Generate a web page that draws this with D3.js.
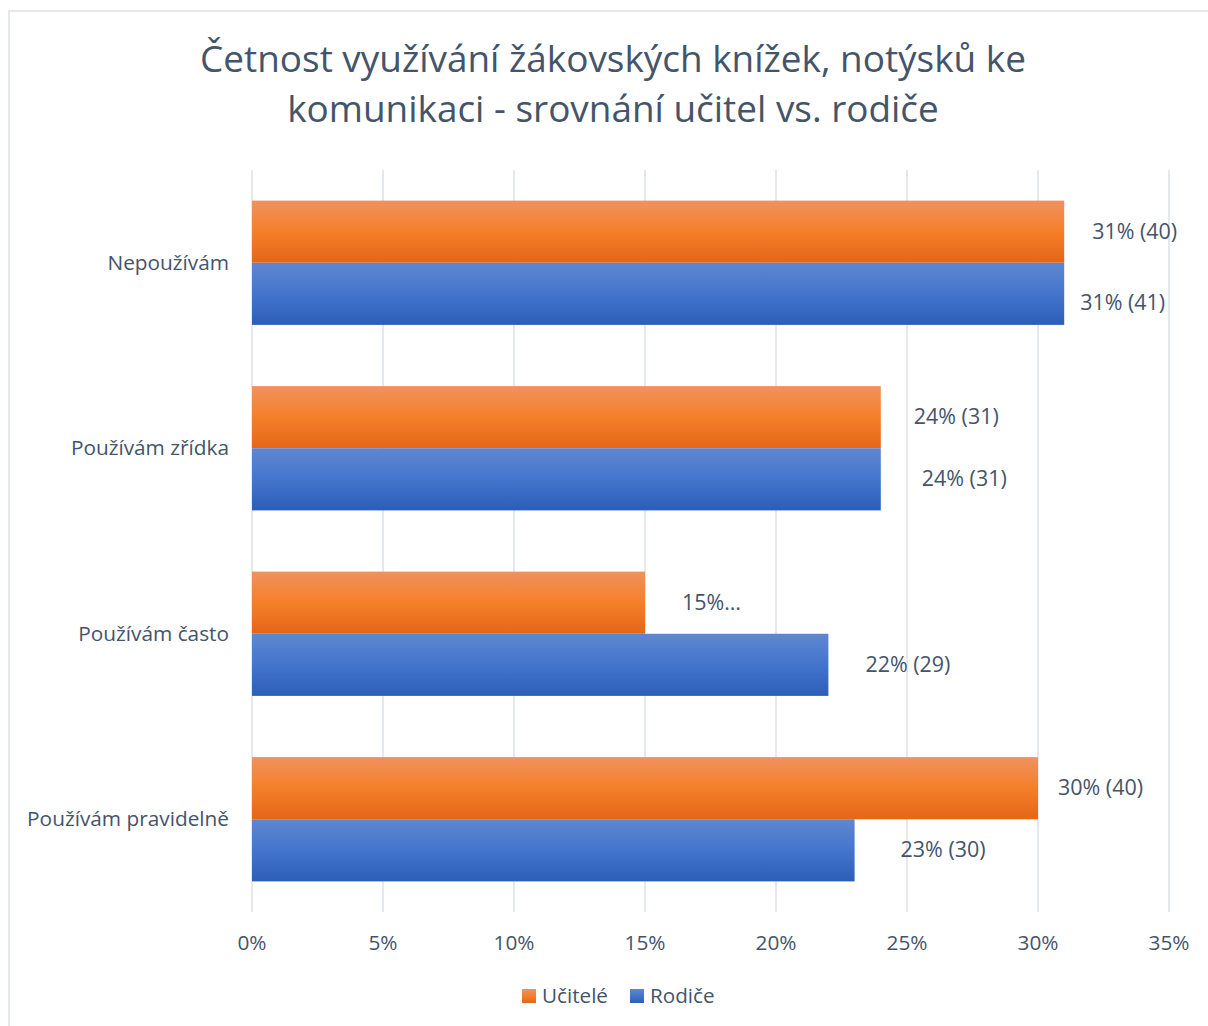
<!DOCTYPE html>
<html>
<head>
<meta charset="utf-8">
<script src="https://cdn.jsdelivr.net/npm/d3@7"></script>
<style>
  body { margin: 0; background: #fff; }
  svg text { font-family: "Open Sans", Lato, sans-serif; fill: #44546a; }
</style>
</head>
<body>
<svg width="1208" height="1026"></svg>
<script>
// chart data
var categories = ["Nepoužívám", "Používám zřídka", "Používám často", "Používám pravidelně"];
var seriesNames = ["Učitelé", "Rodiče"];
var ucitelePct = [31, 24, 15, 30];
var rodicePct = [31, 24, 22, 23];
var uciteleLabels = ["31% (40)", "24% (31)", "15%…", "30% (40)"];
var rodiceLabels = ["31% (41)", "24% (31)", "22% (29)", "23% (30)"];
var tickValues = [0, 5, 10, 15, 20, 25, 30, 35];
var titleLines = ["Četnost využívání žákovských knížek, notýsků ke", "komunikaci - srovnání učitel vs. rodiče"];

var svg = d3.select("svg"),
    width = +svg.attr("width"),
    height = +svg.attr("height");

// no Calibri here, so size the font by the width a sample string had in the original
function fitSize(sample, targetWidth) {
  var t = svg.append("text").attr("font-size", "20px").text(sample);
  var w = t.node().getComputedTextLength();
  t.remove();
  return 20 * targetWidth / w;
}
var titleSize = fitSize(titleLines[0], 826);
var catSize = fitSize("Používám pravidelně", 202);
var labelSize = fitSize("31% (40)", 85);
var tickSize = fitSize("35%", 41);
var legendSize = fitSize("Učitelé", 66);

// gradients like excel
var defs = svg.append("defs");
function gradient(id, stops) {
  var g = defs.append("linearGradient").attr("id", id)
      .attr("x1", 0).attr("y1", 0).attr("x2", 0).attr("y2", 1);
  stops.forEach(function(s) {
    g.append("stop").attr("offset", s[0]).attr("stop-color", s[1]);
  });
}
gradient("gOrange", [[0, "#f0925e"], [0.5, "#f57f29"], [1, "#e46616"]]);
gradient("gBlue", [[0, "#5f87d0"], [0.5, "#4375cd"], [1, "#2d5eb7"]]);

// outer border (right + bottom fall outside the picture)
svg.append("rect")
    .attr("x", 9).attr("y", 11)
    .attr("width", 1300).attr("height", 1100)
    .attr("fill", "none")
    .attr("stroke", "#dde2ea")
    .attr("stroke-width", 1.5);

// title
svg.append("text")
    .attr("text-anchor", "middle")
    .attr("font-size", titleSize + "px")
    .selectAll("tspan")
    .data(titleLines)
    .enter().append("tspan")
    .attr("x", 613)
    .attr("y", function(d, i) { return 72 + i * 50; })
    .text(function(d) { return d; });

var x = d3.scaleLinear().domain([0, 35]).range([252, 1169]);
var y = d3.scaleBand().domain(categories).range([170, 912])
    .paddingInner(0.33).paddingOuter(0.165);
var ySub = d3.scaleBand().domain(seriesNames).range([0, y.bandwidth()]);

// gridlines
svg.append("g").selectAll("line")
    .data(tickValues)
    .enter().append("line")
    .attr("x1", function(d) { return x(d); })
    .attr("x2", function(d) { return x(d); })
    .attr("y1", 170).attr("y2", 912)
    .attr("stroke", "#dde2ea")
    .attr("stroke-width", 1.5);

// tick labels
svg.append("g").selectAll("text")
    .data(tickValues)
    .enter().append("text")
    .attr("x", function(d) { return x(d); })
    .attr("y", 950)
    .attr("text-anchor", "middle")
    .attr("font-size", tickSize + "px")
    .text(function(d) { return d + "%"; });

// category labels
svg.append("g").selectAll("text")
    .data(categories)
    .enter().append("text")
    .attr("x", 229)
    .attr("y", function(d) { return y(d) + y.bandwidth() / 2 + 7; })
    .attr("text-anchor", "end")
    .attr("font-size", catSize + "px")
    .text(function(d) { return d; });

var series = [
  { name: "Učitelé", values: ucitelePct, labels: uciteleLabels, fill: "url(#gOrange)" },
  { name: "Rodiče", values: rodicePct, labels: rodiceLabels, fill: "url(#gBlue)" }
];

// excel keeps hand-moved label positions, so nudge them a bit
var labelDx = [[28, 33, 37, 20], [16, 41, 37, 46]];
var labelDy = [[0, 0, 0, 0], [9, 0, 0, 0]];

series.forEach(function(s, si) {
  var g = svg.append("g");
  g.selectAll("rect")
      .data(s.values)
      .enter().append("rect")
      .attr("x", x(0))
      .attr("y", function(d, i) { return y(categories[i]) + ySub(s.name); })
      .attr("width", function(d) { return x(d) - x(0); })
      .attr("height", ySub.bandwidth())
      .attr("fill", s.fill);

  g.selectAll("text")
      .data(s.values)
      .enter().append("text")
      .attr("x", function(d, i) { return x(d) + labelDx[si][i]; })
      .attr("y", function(d, i) { return y(categories[i]) + ySub(s.name) + ySub.bandwidth() / 2 + 7 + labelDy[si][i]; })
      .attr("font-size", labelSize + "px")
      .text(function(d, i) { return s.labels[i]; });
});

// legend
var legendX = [522, 630];
var lg = svg.append("g");
series.forEach(function(s, i) {
  lg.append("rect")
      .attr("x", legendX[i]).attr("y", 989)
      .attr("width", 14).attr("height", 14)
      .attr("fill", s.fill);
  lg.append("text")
      .attr("x", legendX[i] + 20)
      .attr("y", 1003)
      .attr("font-size", legendSize + "px")
      .text(s.name);
});
</script>
</body>
</html>
